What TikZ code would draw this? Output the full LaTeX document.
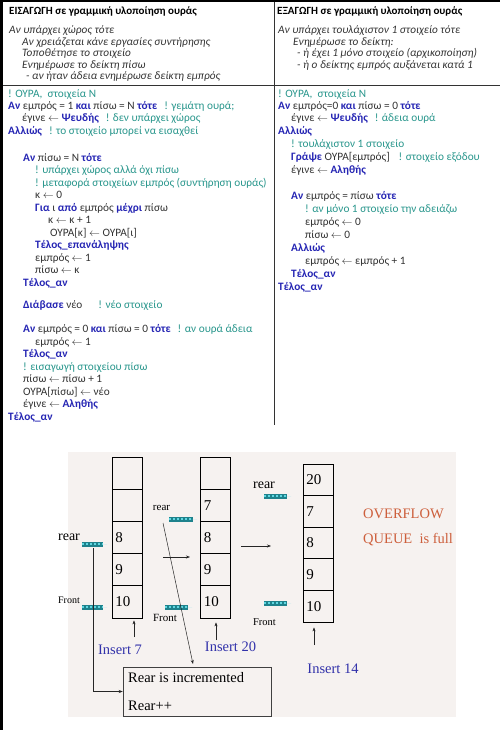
\documentclass[tikz,border=0pt]{standalone}
\usepackage{fontspec}
\setmainfont{Carlito}
\newfontfamily\diagfont{Liberation Serif}
\usetikzlibrary{arrows.meta,calc}
\definecolor{kwblue}{RGB}{38,38,180}
\definecolor{cmteal}{RGB}{40,150,140}
\definecolor{txtgray}{RGB}{50,50,50}
\definecolor{bgpale}{RGB}{246,242,240}
\definecolor{insblue}{RGB}{50,50,170}
\definecolor{ovred}{RGB}{205,95,60}
\definecolor{ropecyan}{RGB}{95,215,225}
\definecolor{ropedark}{RGB}{30,130,140}
\newcommand{\kwd}[1]{\textcolor{kwblue}{\textbf{#1}}}
\newcommand{\cmt}[1]{\textcolor{cmteal}{#1}}
\newcommand{\larr}{$\leftarrow$}
\newcommand{\gap}{\hspace{7pt}}
\begin{document}
\begin{tikzpicture}[x=1pt,y=-1pt,
  code/.style={anchor=base west,inner sep=0pt,yshift=-3.5pt,text=txtgray,font=\fontsize{11.3}{12}\selectfont},
  ital/.style={anchor=base west,inner sep=0pt,yshift=-3.5pt,text=txtgray,font=\fontsize{11.3}{12}\selectfont\itshape},
  head/.style={anchor=base west,inner sep=0pt,yshift=-3.5pt,text=black,font=\fontsize{11}{12}\selectfont\bfseries},
  cell/.style={draw=black,line width=0.8pt,minimum width=30pt,minimum height=32.2pt,inner sep=0pt},
  cellb/.style={draw=black,line width=0.8pt,minimum width=30pt,minimum height=31.6pt,inner sep=0pt},
  num/.style={anchor=west,inner sep=0pt,font=\diagfont\fontsize{15}{15}\selectfont},
  lbl/.style={inner sep=0pt,font=\diagfont\fontsize{14}{14}\selectfont},
  lbls/.style={inner sep=0pt,font=\diagfont\fontsize{10.5}{11}\selectfont},
  ins/.style={inner sep=0pt,text=insblue,font=\diagfont\fontsize{14.5}{15}\selectfont},
  ovf/.style={anchor=west,inner sep=0pt,text=ovred,font=\diagfont\fontsize{14.5}{15}\selectfont},
  thinarrow/.style={draw=black!85,line width=0.5pt,-{Stealth[length=4pt,width=3pt]}},
  rope/.style={draw=ropedark,line width=5pt,shorten >=4pt},
  ropetw/.style={draw=ropecyan,line width=2.6pt,dash pattern=on 2pt off 2pt,shorten >=4.5pt},
  ropehead/.style={draw=none,fill=ropecyan,-{Triangle[length=6pt,width=7pt,fill=ropecyan]}}
]
\useasboundingbox (0,0) rectangle (500,730);
\fill[white] (0,0) rectangle (500,730);
% frame
\fill[black] (0,0) rectangle (500,2.5);
\fill[black] (0,0) rectangle (3,730);
\draw[black!80,line width=0.6pt] (3,85) -- (500,85);
\draw[black!80,line width=0.6pt] (274,2.5) -- (274,425);

% ---------- left column ----------
\node[head] (lh) at (9,11) {ΕΙΣΑΓΩΓΗ σε γραμμική υλοποίηση ουράς};
\node[ital] (li1) at (9,30) {Αν υπάρχει χώρος τότε};
\node[ital] (li2) at (22,42) {Αν χρειάζεται κάνε εργασίες συντήρησης};
\node[ital] (li3) at (22,53) {Τοποθέτησε το στοιχείο};
\node[ital] (li4) at (22,65) {Ενημέρωσε το δείκτη πίσω};
\node[ital] (li5) at (26,76) {- αν ήταν άδεια ενημέρωσε δείκτη εμπρός};

\node[code] (a1) at (8,94) {\cmt{! ΟΥΡΑ,~ στοιχεία Ν}};
\node[code] (a2) at (8,106) {\kwd{Αν} εμπρός = 1 \kwd{και} πίσω = Ν \kwd{τότε}\gap\cmt{! γεμάτη ουρά;}};
\node[code] (a3) at (22,118.5) {έγινε \larr\ \kwd{Ψευδής}\gap\cmt{! δεν υπάρχει χώρος}};
\node[code] (a4) at (8,131) {\kwd{Αλλιώς}\gap\cmt{! το στοιχείο μπορεί να εισαχθεί}};
\node[code] (a6) at (23,157.5) {\kwd{Αν} πίσω = Ν \kwd{τότε}};
\node[code] (a7) at (35,170) {\cmt{! υπάρχει χώρος αλλά όχι πίσω}};
\node[code] (a8) at (35,182.5) {\cmt{! μεταφορά στοιχείων εμπρός (συντήρηση ουράς)}};
\node[code] (a9) at (35,195) {κ \larr\ 0};
\node[code] (a10) at (35,207.5) {\kwd{Για} ι \kwd{από} εμπρός \kwd{μέχρι} πίσω};
\node[code] (a11) at (48,220) {κ \larr\ κ + 1};
\node[code] (a12) at (50,232.5) {ΟΥΡΑ[κ] \larr\ ΟΥΡΑ[ι]};
\node[code] (a13) at (35,245) {\kwd{Τέλος\_επανάληψης}};
\node[code] (a14) at (35,257.5) {εμπρός \larr\ 1};
\node[code] (a15) at (35,270) {πίσω \larr\ κ};
\node[code] (a16) at (23,282.5) {\kwd{Τέλος\_αν}};
\node[code] (a18) at (23,305) {\kwd{Διάβασε} νέο\hspace{16pt}\cmt{! νέο στοιχείο}};
\node[code] (a20) at (23,329) {\kwd{Αν} εμπρός = 0 \kwd{και} πίσω = 0 \kwd{τότε}\gap\cmt{! αν ουρά άδεια}};
\node[code] (a21) at (35,341.5) {εμπρός \larr\ 1};
\node[code] (a22) at (23,354) {\kwd{Τέλος\_αν}};
\node[code] (a23) at (23,366.5) {\cmt{! εισαγωγή στοιχείου πίσω}};
\node[code] (a24) at (23,379) {πίσω \larr\ πίσω + 1};
\node[code] (a25) at (23,391.5) {ΟΥΡΑ[πίσω] \larr\ νέο};
\node[code] (a26) at (23,404) {έγινε \larr\ \kwd{Αληθής}};
\node[code] (a27) at (8,416.5) {\kwd{Τέλος\_αν}};

% ---------- right column ----------
\node[head] (rh) at (277,11) {ΕΞΑΓΩΓΗ σε γραμμική υλοποίηση ουράς};
\node[ital] (ri1) at (278,30) {Αν υπάρχει τουλάχιστον 1 στοιχείο τότε};
\node[ital] (ri2) at (293,42) {Ενημέρωσε το δείκτη:};
\node[ital] (ri3) at (297,53) {- ή έχει 1 μόνο στοιχείο (αρχικοποίηση)};
\node[ital] (ri4) at (297,65) {- ή ο δείκτης εμπρός αυξάνεται κατά 1};

\node[code] (b1) at (278,94) {\cmt{! ΟΥΡΑ,~ στοιχεία Ν}};
\node[code] (b2) at (278,106) {\kwd{Αν} εμπρός=0 \kwd{και} πίσω = 0 \kwd{τότε}};
\node[code] (b3) at (291,118.5) {έγινε \larr\ \kwd{Ψευδής}\gap\cmt{! άδεια ουρά}};
\node[code] (b4) at (278,131) {\kwd{Αλλιώς}};
\node[code] (b5) at (291,144) {\cmt{! τουλάχιστον 1 στοιχείο}};
\node[code] (b6) at (291,157) {\kwd{Γράψε} ΟΥΡΑ[εμπρός]\hspace{9pt}\cmt{! στοιχείο εξόδου}};
\node[code] (b7) at (291,170) {έγινε \larr\ \kwd{Αληθής}};
\node[code] (b9) at (291,196) {\kwd{Αν} εμπρός = πίσω \kwd{τότε}};
\node[code] (b10) at (305,209) {\cmt{! αν μόνο 1 στοιχείο την αδειάζω}};
\node[code] (b11) at (305,222) {εμπρός \larr\ 0};
\node[code] (b12) at (305,234.5) {πίσω \larr\ 0};
\node[code] (b13) at (291,247.5) {\kwd{Αλλιώς}};
\node[code] (b14) at (305,260.5) {εμπρός \larr\ εμπρός + 1};
\node[code] (b15) at (291,273.5) {\kwd{Τέλος\_αν}};
\node[code] (b16) at (278,286.5) {\kwd{Τέλος\_αν}};

% ---------- diagram ----------
\fill[bgpale] (68,452) rectangle (456,717);

% stack 1
\foreach \i/\yy in {1/473.1,2/505.3,3/537.5,4/569.7,5/601.9}
  \node[cell] (s1c\i) at (127,\yy) {};
% stack 2
\foreach \i/\yy in {1/473.1,2/505.3,3/537.5,4/569.7,5/601.9}
  \node[cell] (s2c\i) at (215.5,\yy) {};
% stack 3
\foreach \i/\yy in {1/479.8,2/511.4,3/543,4/574.6,5/606.2}
  \node[cellb] (s3c\i) at (318,\yy) {};

\node[num] (n13) at ([xshift=3.5pt]s1c3.west) {8};
\node[num] (n14) at ([xshift=3.5pt]s1c4.west) {9};
\node[num] (n15) at ([xshift=3.5pt]s1c5.west) {10};
\node[num] (n22) at ([xshift=3.5pt]s2c2.west) {7};
\node[num] (n23) at ([xshift=3.5pt]s2c3.west) {8};
\node[num] (n24) at ([xshift=3.5pt]s2c4.west) {9};
\node[num] (n25) at ([xshift=3.5pt]s2c5.west) {10};
\node[num] (n31) at ([xshift=3.5pt]s3c1.west) {20};
\node[num] (n32) at ([xshift=3.5pt]s3c2.west) {7};
\node[num] (n33) at ([xshift=3.5pt]s3c3.west) {8};
\node[num] (n34) at ([xshift=3.5pt]s3c4.west) {9};
\node[num] (n35) at ([xshift=3.5pt]s3c5.west) {10};

% pointer labels
\node[lbl] (rear1) at (69,537) {rear};
\node[lbls,font=\diagfont\fontsize{10}{10}\selectfont] (front1) at (69,600) {Front};
\node[lbls,font=\diagfont\fontsize{11}{11}\selectfont] (rear2) at (161.5,508) {rear};
\node[lbls,font=\diagfont\fontsize{11}{11}\selectfont] (front2) at (165,618) {Front};
\node[lbl] (rear3) at (264,485) {rear};
\node[lbls] (front3) at (264.5,622) {Front};

% rope arrows
\coordinate (ra1) at (82,544);   \coordinate (rb1) at (107,544);
\coordinate (fa1) at (82,607);   \coordinate (fb1) at (107,607);
\coordinate (ra2) at (169,519);  \coordinate (rb2) at (197,519);
\coordinate (fa2) at (165,607);  \coordinate (fb2) at (192,607);
\coordinate (ra3) at (264,496);  \coordinate (rb3) at (291,496);
\coordinate (fa3) at (264,603);  \coordinate (fb3) at (291,603);
\foreach \a/\b in {ra1/rb1,fa1/fb1,ra2/rb2,fa2/fb2,ra3/rb3,fa3/fb3}{
  \draw[rope] (\a) -- (\b);
  \draw[ropetw] (\a) -- (\b);
  \draw[ropehead,line width=0.1pt] ($(\b)+(-6,0)$) -- (\b);
}

% insert labels and up arrows
\node[ins] (ins7) at (120,650) {Insert 7};
\node[ins] (ins20) at (230.5,647) {Insert 20};
\node[ins] (ins14) at (333,669) {Insert 14};
\coordinate (u1) at (134,637);
\coordinate (u2) at (216,640);
\coordinate (u3) at (314,645);
\draw[thinarrow] (u1) -- ([yshift=-2pt]u1 |- s1c5.south);
\draw[thinarrow] (u2) -- ([yshift=-4pt]u2 |- s2c5.south);
\draw[thinarrow] (u3) -- ([yshift=-5pt]u3 |- s3c5.south);

% shift arrows
\coordinate (h1a) at (163,557); \coordinate (h1b) at (190,557);
\coordinate (h2a) at (241,546); \coordinate (h2b) at (271,546);
\draw[thinarrow] (h1a) -- (h1b);
\draw[thinarrow] (h2a) -- (h2b);

% overflow text
\node[ovf] (ov1) at (363,514) {OVERFLOW};
\node[ovf] (ov2) at (363,540) {QUEUE~ is full};

% box
\node[draw=black!75,line width=0.5pt,minimum width=148pt,minimum height=49pt,inner sep=0pt] (box) at (197,691.5) {};
\node[lbl,anchor=west,font=\diagfont\fontsize{14.5}{15}\selectfont] (bt1) at (128,678) {Rear is incremented};
\node[lbl,anchor=west,font=\diagfont\fontsize{14.5}{15}\selectfont] (bt2) at (128,706) {Rear++};

% connectors to box
\coordinate (lstart) at (93,548);
\draw[thinarrow] (lstart) |- (box.west);
\coordinate (d1) at (163,523);
\coordinate (d2) at (193,664);
\draw[thinarrow] (d1) -- (d2);
\end{tikzpicture}
\end{document}
